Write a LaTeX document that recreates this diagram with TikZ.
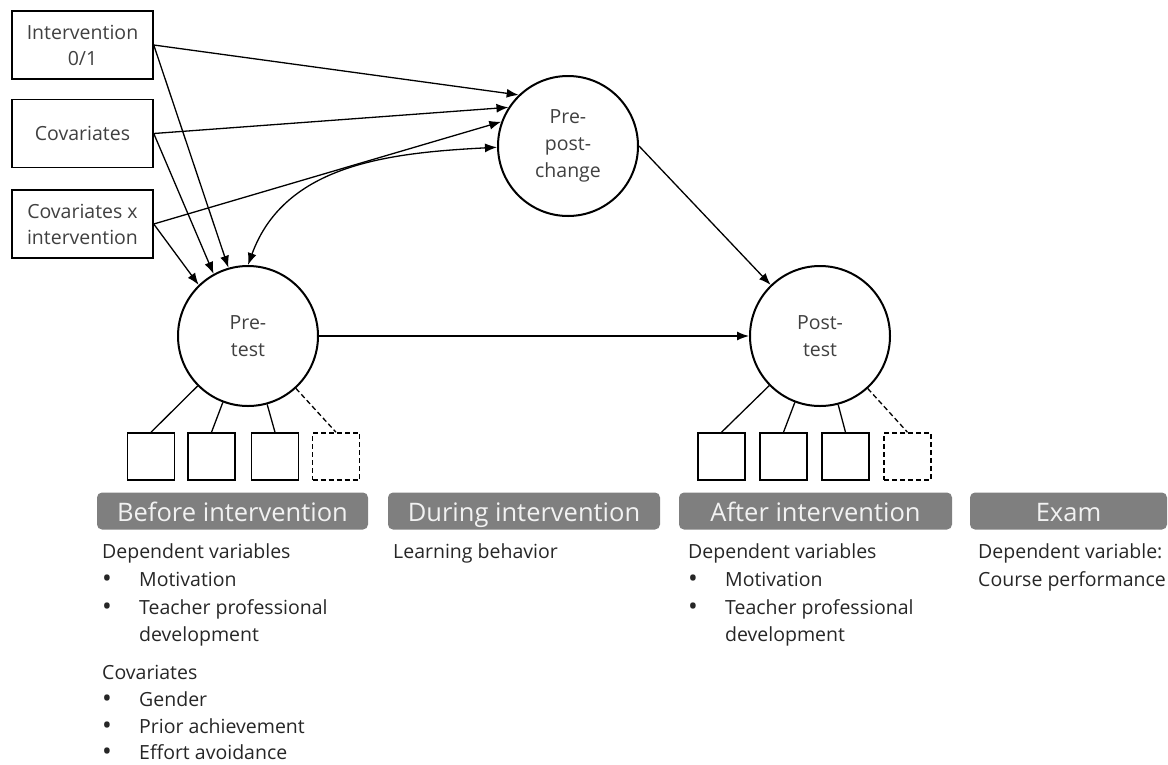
\documentclass[tikz,border=0pt]{standalone}
\usepackage{fontspec}
\setmainfont{Open Sans}
\usetikzlibrary{arrows.meta}
\definecolor{barfill}{HTML}{7F7F7F}
\definecolor{bartext}{HTML}{F2F2F2}
\definecolor{nodetext}{HTML}{404040}
\definecolor{bodytext}{HTML}{262626}
\begin{document}
\begin{tikzpicture}[x=1pt,y=-1pt,
  box/.style={draw,rectangle,line width=1.5pt,minimum width=141pt,minimum height=68pt,inner sep=0pt,align=center,text=nodetext,font=\fontsize{19.5}{26}\selectfont},
  circ/.style={draw,circle,line width=2pt,minimum size=140pt,inner sep=0pt,align=center,text=nodetext,font=\fontsize{19.5}{27}\selectfont},
  sq/.style={draw,rectangle,line width=1.5pt,minimum size=47pt,inner sep=0pt},
  dsq/.style={sq,dash pattern=on 5pt off 3pt},
  bar/.style={rectangle,rounded corners=5pt,fill=barfill,minimum height=37pt,inner sep=0pt,text height=20pt,text depth=0pt,text=bartext,font=\fontsize{25.5}{30}\selectfont},
  txt/.style={anchor=base west,inner sep=0pt,text=bodytext,font=\fontsize{19.5}{27}\selectfont},
  bul/.style={anchor=base west,inner sep=0pt,text=bodytext,font=\fontsize{26}{27}\selectfont},
  arr/.style={line width=1.3pt,-{Latex[length=12pt,width=9pt]}},
  darr/.style={line width=1.3pt,{Latex[length=12pt,width=9pt]}-{Latex[length=12pt,width=9pt]}},
  link/.style={line width=1.3pt},
  dlink/.style={line width=1.3pt,dash pattern=on 5pt off 3pt}
]
\useasboundingbox (0,0) rectangle (1168,764);

% input boxes
\node[box] (int) at (82.5,45) {Intervention\\0/1};
\node[box] (cov) at (82.5,133.5) {Covariates};
\node[box] (cxi) at (82.5,224) {Covariates x\\intervention};

% latent circles
\node[circ] (pre) at (248,336) {Pre-\\test};
\node[circ] (post) at (820,336) {Post-\\test};
\node[circ] (ppc) at (568,146) {Pre-\\post-\\change};

% indicator squares
\node[sq] (a1) at (151,456.5) {};
\node[sq] (a2) at (211.5,456.5) {};
\node[sq] (a3) at (275,456.5) {};
\node[dsq] (a4) at (336,456.5) {};
\node[sq] (b1) at (721.5,456.5) {};
\node[sq] (b2) at (783.5,456.5) {};
\node[sq] (b3) at (845.5,456.5) {};
\node[dsq] (b4) at (907.5,456.5) {};

\draw[link] (pre) -- (a1.north);
\draw[link] (pre) -- (a2.north);
\draw[link] (pre) -- (a3.north);
\draw[dlink] (pre) -- (a4.north);
\draw[link] (post) -- (b1.north);
\draw[link] (post) -- (b2.north);
\draw[link] (post) -- (b3.north);
\draw[dlink] (post) -- (b4.north);

% arrows
\draw[arr] (int.east) -- (ppc.134);
\draw[arr] (cov.east) -- (ppc.147);
\draw[arr] (cxi.east) -- (ppc.160);
\draw[arr] (int.east) -- (pre.106);
\draw[arr] (cov.east) -- (pre.119);
\draw[arr] (cxi.east) -- (pre.134);
\draw[darr] (pre.90) to[out=70,in=183] (ppc.181);
\draw[arr] (ppc.east) -- (post.134);
\draw[arr] (pre.east) -- (post.west);

% phase bars
\node[bar,minimum width=271pt] (bb) at (232.5,511) {Before intervention};
\node[bar,minimum width=272pt] (db) at (524,511) {During intervention};
\node[bar,minimum width=273pt] (ab) at (815.5,511) {After intervention};
\node[bar,minimum width=197pt] (eb) at (1068.5,511) {Exam};

% before text
\node[txt] (t1) at (102,558) {Dependent variables};
\node[bul] (t2a) at (102,587) {•};
\node[txt] (t2) at (139,586) {Motivation};
\node[bul] (t3a) at (102,615) {•};
\node[txt] (t3) at (139,614) {Teacher professional};
\node[txt] (t4) at (139,641) {development};
\node[txt] (t5) at (102,679) {Covariates};
\node[bul] (t6a) at (102,707) {•};
\node[txt] (t6) at (139,706) {Gender};
\node[bul] (t7a) at (102,734) {•};
\node[txt] (t7) at (139,733) {Prior achievement};
\node[bul] (t8a) at (102,760) {•};
\node[txt] (t8) at (139,759) {Effort avoidance};

% during text
\node[txt] (d1) at (393,558) {Learning behavior};

% after text
\node[txt] (u1) at (688,558) {Dependent variables};
\node[bul] (u2a) at (688,587) {•};
\node[txt] (u2) at (725,586) {Motivation};
\node[bul] (u3a) at (688,615) {•};
\node[txt] (u3) at (725,614) {Teacher professional};
\node[txt] (u4) at (725,641) {development};

% exam text
\node[txt] (e1) at (978,558) {Dependent variable:};
\node[txt] (e2) at (978,586) {Course performance};
\end{tikzpicture}
\end{document}
